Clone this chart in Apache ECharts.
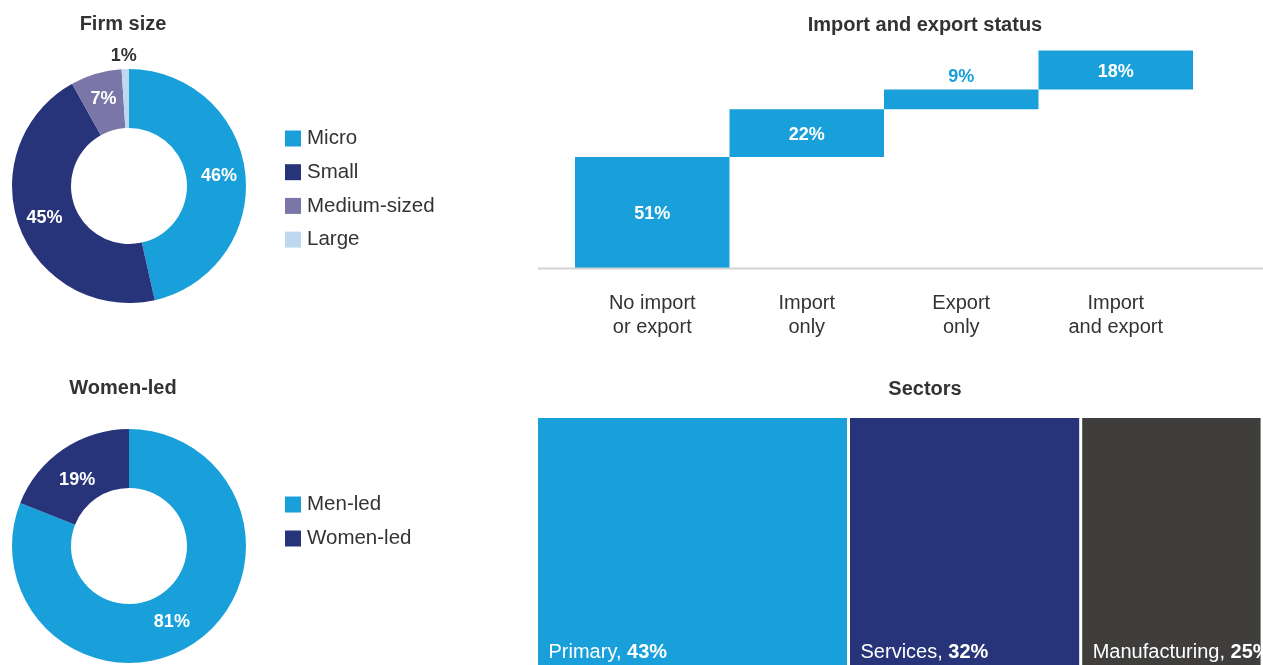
<!DOCTYPE html>
<html>
<head>
<meta charset="utf-8">
<script src="https://cdn.jsdelivr.net/npm/echarts@6/dist/echarts.min.js"></script>
<style>
  html, body { margin: 0; padding: 0; background: #fff; }
  #main { width: 1263px; height: 665px; }
</style>
</head>
<body>
<div id="main"></div>
<script>
// data
const firmSizeNames = ['Micro', 'Small', 'Medium-sized', 'Large'];
const firmSizeValues = [46, 45, 7, 1];
const leadNames = ['Men-led', 'Women-led'];
const leadValues = [81, 19];
const tradeCategories = ['No import\nor export', 'Import\nonly', 'Export\nonly', 'Import\nand export'];
const tradeValues = [51, 22, 9, 18];
const sectorNames = ['Primary', 'Services', 'Manufacturing'];
const sectorValues = [43, 32, 25];

const blue = '#19a0db';
const navy = '#273479';
const purple = '#7a76a7';
const pale = '#bdd9f2';
const charcoal = '#3f3e3d';
const textColor = '#333333';
const font = '"Liberation Sans", Arial, Helvetica, sans-serif';

// waterfall: each step sits on the running total of the ones before it
const tradeBase = [];
let running = 0;
tradeValues.forEach(v => { tradeBase.push(running); running += v; });

const firmColors = [blue, navy, purple, pale];
const leadColors = [blue, navy];
const sectorColors = [blue, navy, charcoal];

function pieLabel () {
  return { show: true, position: 'inside', formatter: '{c}%', color: '#fff', fontSize: 18, fontWeight: 'bold', fontFamily: font };
}

const firmData = firmSizeNames.map((n, i) => {
  const item = { name: n, value: firmSizeValues[i], itemStyle: { color: firmColors[i] } };
  if (n === 'Large') {
    // tiny slice, label sits above the ring
    item.label = { position: 'outside', color: textColor };
    item.labelLine = { show: false, length: 13, length2: 0 };
  }
  return item;
});

const leadData = leadNames.map((n, i) => ({ name: n, value: leadValues[i], itemStyle: { color: leadColors[i] } }));

const tradeData = tradeValues.map((v, i) => {
  const item = { value: v };
  if (v < 10) {
    item.label = { position: 'top', color: blue, distance: 4, offset: [0, 0] };
  }
  return item;
});

const sectorSeries = sectorNames.map((n, i) => ({
  name: n,
  type: 'bar',
  xAxisIndex: 1,
  yAxisIndex: 1,
  stack: 'sectors',
  barWidth: '100%',
  itemStyle: { color: sectorColors[i], borderColor: '#fff', borderWidth: 1.5 },
  label: {
    show: true,
    position: 'insideBottomLeft',
    distance: 12,
    formatter: p => '{n|' + p.seriesName + ', }{v|' + p.value + '%}',
    rich: {
      n: { color: '#fff', fontSize: 20, fontFamily: font },
      v: { color: '#fff', fontSize: 20, fontWeight: 'bold', fontFamily: font }
    }
  },
  data: [sectorValues[i]]
}));

function titleText (text, x, y) {
  return {
    type: 'text', x: x, y: y,
    style: { text: text, align: 'center', verticalAlign: 'middle', font: 'bold 20px ' + font, fill: textColor }
  };
}

const legendBase = {
  orient: 'vertical',
  left: 280,
  icon: 'rect',
  itemWidth: 16,
  itemHeight: 16,
  selectedMode: false,
  textStyle: { fontSize: 20.5, color: textColor, fontFamily: font, padding: [0, 0, 0, 1] }
};

// small nudges so the pie labels sit where the reference puts them
const pieNudges = {
  '0-3': { dx: 17, dy: 0 },
  '1-0': { dx: -8, dy: 1 },
  '1-1': { dx: -1, dy: 9 }
};

const chart = echarts.init(document.getElementById('main'));
chart.setOption({
  animation: false,
  textStyle: { fontFamily: font },
  graphic: [
    titleText('Firm size', 123, 24),
    titleText('Women-led', 123, 388),
    titleText('Import and export status', 925, 25),
    titleText('Sectors', 925, 389),
    {
      type: 'line', z: 10,
      shape: { x1: 538, y1: 268.5, x2: 1263, y2: 268.5 },
      style: { stroke: '#d2d2d2', lineWidth: 2 }
    }
  ],
  legend: [
    Object.assign({}, legendBase, { data: firmSizeNames, top: 123, itemGap: 12.7 }),
    Object.assign({}, legendBase, { data: leadNames, top: 489, itemGap: 13 })
  ],
  grid: [
    { left: 575, width: 618, top: 50.4, height: 217.6, outerBoundsMode: 'none' },
    { left: 536.5, width: 725.6, top: 416.5, height: 258, outerBoundsMode: 'none' }
  ],
  xAxis: [
    {
      gridIndex: 0,
      type: 'category',
      data: tradeCategories,
      axisLine: { show: false },
      axisTick: { show: false },
      axisLabel: { fontSize: 20, lineHeight: 24, color: textColor, margin: 23, interval: 0 }
    },
    { gridIndex: 1, type: 'value', min: 0, max: 100, show: false }
  ],
  yAxis: [
    { gridIndex: 0, type: 'value', min: 0, max: 100, show: false },
    { gridIndex: 1, type: 'category', data: ['Sectors'], show: false }
  ],
  series: [
    {
      type: 'pie',
      center: [129, 186],
      radius: [58, 117],
      startAngle: 90,
      avoidLabelOverlap: false,
      label: pieLabel(),
      labelLine: { show: false },
      labelLayout: p => pieNudges[p.seriesIndex + '-' + p.dataIndex] || {},
      emphasis: { disabled: true },
      data: firmData
    },
    {
      type: 'pie',
      center: [129, 546],
      radius: [58, 117],
      startAngle: 90,
      avoidLabelOverlap: false,
      label: pieLabel(),
      labelLine: { show: false },
      labelLayout: p => pieNudges[p.seriesIndex + '-' + p.dataIndex] || {},
      emphasis: { disabled: true },
      data: leadData
    },
    {
      type: 'bar',
      xAxisIndex: 0,
      yAxisIndex: 0,
      stack: 'trade',
      barCategoryGap: 0,
      itemStyle: { color: 'transparent' },
      emphasis: { disabled: true },
      data: tradeBase
    },
    {
      type: 'bar',
      xAxisIndex: 0,
      yAxisIndex: 0,
      stack: 'trade',
      barCategoryGap: 0,
      itemStyle: { color: blue },
      label: { show: true, position: 'inside', offset: [0, 2], formatter: '{c}%', color: '#fff', fontSize: 18, fontWeight: 'bold', fontFamily: font },
      emphasis: { disabled: true },
      data: tradeData
    }
  ].concat(sectorSeries)
});
</script>
</body>
</html>
